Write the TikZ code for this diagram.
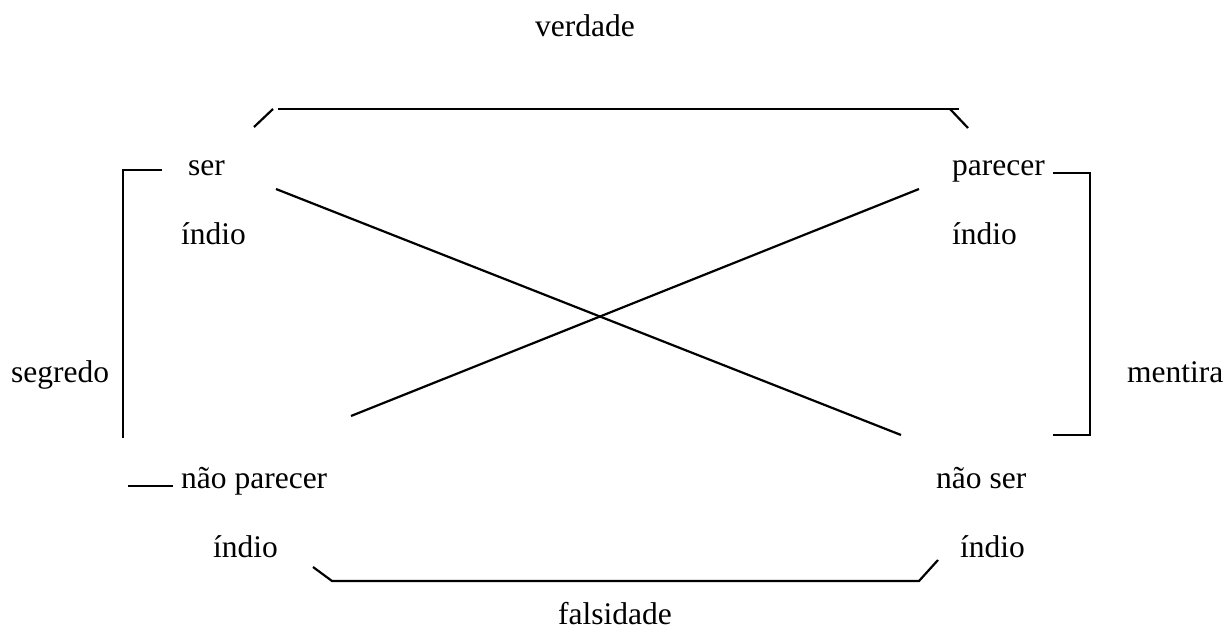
\documentclass[tikz,border=0pt]{standalone}
\usepackage{fontspec}
\setmainfont{Liberation Serif}
\begin{document}
\begin{tikzpicture}[x=1pt,y=-1pt,
  lbl/.style={anchor=base west,inner sep=0pt,font=\fontsize{31.5}{36}\selectfont},
  ln/.style={line width=2.2pt}]
\useasboundingbox (0,0) rectangle (1224,628);
% labels
\node[lbl] (verdade) at (535,37) {verdade};
\node[lbl,text depth=0pt] (falsidade) at (558,624) {falsidade};
\node[lbl] (segredo) at (11,383) {segredo};
\node[lbl] (mentira) at (1127,383) {mentira};
\node[lbl] (ser) at (188,176) {ser};
\node[lbl] (ind1) at (181,245) {índio};
\node[lbl] (parecer) at (952,176) {parecer};
\node[lbl] (ind2) at (952,245) {índio};
\node[lbl] (naopar) at (181,488) {não parecer};
\node[lbl] (ind3) at (213,557) {índio};
\node[lbl] (naoser) at (936,488) {não ser};
\node[lbl] (ind4) at (960,557) {índio};
% coordinates
\coordinate (t1) at (254,127);
\coordinate (t2) at (273,109);
\coordinate (t3) at (278,109);
\coordinate (t4) at (959,109);
\coordinate (t5) at (950,109);
\coordinate (t6) at (968,128);
\coordinate (l1) at (162,170);
\coordinate (l2) at (123,170);
\coordinate (l3) at (123,438);
\coordinate (l4) at (128,486);
\coordinate (l5) at (173,486);
\coordinate (r1) at (1053,173);
\coordinate (r2) at (1090,173);
\coordinate (r3) at (1090,435);
\coordinate (r4) at (1053,435);
\coordinate (b1) at (313,567);
\coordinate (b2) at (332,581);
\coordinate (b3) at (919,581);
\coordinate (b4) at (938,560);
\coordinate (d1) at (276,189);
\coordinate (d2) at (901,435);
\coordinate (e1) at (351,416);
\coordinate (e2) at (919,189);
% lines
\draw[ln] (t1) -- (t2);
\draw[ln] (t3) -- (t4);
\draw[ln] (t5) -- (t6);
\draw[ln] (l1) -- (l2) -- (l3);
\draw[ln] (l4) -- (l5);
\draw[ln] (r1) -- (r2) -- (r3) -- (r4);
\draw[ln] (b1) -- (b2) -- (b3) -- (b4);
\draw[ln] (d1) -- (d2);
\draw[ln] (e1) -- (e2);
\end{tikzpicture}
\end{document}
